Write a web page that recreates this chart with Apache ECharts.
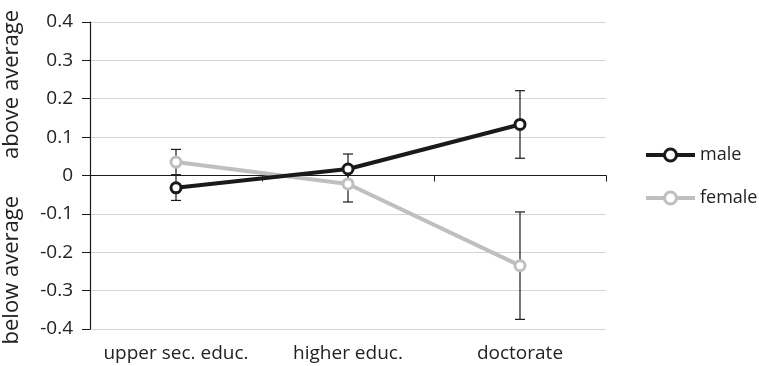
<!DOCTYPE html>
<html><head><meta charset="utf-8">
<script src="https://cdn.jsdelivr.net/npm/echarts@6/dist/echarts.min.js"></script>
<style>html,body{margin:0;padding:0;background:#fff}#c{width:759px;height:366px}</style>
</head><body><div id="c"></div>
<script>
var categories = ['upper sec. educ.', 'higher educ.', 'doctorate'];
var male = [-0.032, 0.017, 0.133];
var female = [0.035, -0.022, -0.235];
var maleErr = [0.033, 0.039, 0.088];
var femaleErr = [0.033, 0.047, 0.14];
var yTicks = [-0.4, -0.3, -0.2, -0.1, 0, 0.1, 0.2, 0.3, 0.4];

var FONT = 'Open Sans';
function errData(vals, errs) {
  return vals.map(function (v, i) { return [i, v - errs[i], v + errs[i]]; });
}
function errRender(params, api) {
  var x = api.value(0);
  var lo = api.coord([x, api.value(1)]);
  var hi = api.coord([x, api.value(2)]);
  var hw = 5;
  var st = { stroke: '#1a1a1a', lineWidth: 1.2 };
  return { type: 'group', children: [
    { type: 'line', shape: { x1: lo[0], y1: lo[1], x2: hi[0], y2: hi[1] }, style: st },
    { type: 'line', shape: { x1: lo[0] - hw, y1: lo[1], x2: lo[0] + hw, y2: lo[1] }, style: st },
    { type: 'line', shape: { x1: hi[0] - hw, y1: hi[1], x2: hi[0] + hw, y2: hi[1] }, style: st }
  ]};
}
var chart = echarts.init(document.getElementById('c'), null, { renderer: 'canvas' });
chart.setOption({
  animation: false,
  textStyle: { fontFamily: FONT },
  grid: { left: 90, right: 153, top: 22, bottom: 37 },
  legend: {
    orient: 'vertical', left: 644, top: 146, itemGap: 25, padding: 0,
    itemWidth: 49, itemHeight: 15,
    lineStyle: { width: 4 },
    itemStyle: { borderWidth: 3 },
    textStyle: { fontFamily: FONT, fontSize: 18, color: '#222' },
    data: ['male', 'female']
  },
  xAxis: [{
    type: 'category', data: categories, boundaryGap: true,
    axisLine: { onZero: true, lineStyle: { color: '#1a1a1a', width: 1.2 } },
    axisTick: { show: true, length: 6, inside: false, lineStyle: { color: '#1a1a1a' } },
    axisLabel: { show: false }
  }, {
    type: 'category', data: categories, position: 'bottom', boundaryGap: true,
    axisLine: { show: false, onZero: false }, axisTick: { show: false },
    axisLabel: { interval: 0, hideOverlap: false, margin: 15, fontFamily: FONT, fontSize: 19, color: '#222' }
  }],
  yAxis: {
    type: 'value', min: -0.4, max: 0.4, interval: 0.1,
    axisLine: { show: true, lineStyle: { color: '#1a1a1a', width: 1.2 } },
    axisTick: { show: true, length: 8, lineStyle: { color: '#1a1a1a' } },
    axisLabel: { margin: 17, fontFamily: FONT, fontSize: 19, color: '#222',
      formatter: function (v) { var r = Math.round(v * 10) / 10; return r === 0 ? '0' : r.toFixed(1); } },
    splitLine: { lineStyle: { color: '#d4d4d4', width: 1 } }
  },
  graphic: [
    { type: 'text', left: 1, top: 10, rotation: Math.PI / 2,
      style: { text: 'above average', fontFamily: FONT, fontSize: 22, fill: '#222' } },
    { type: 'text', left: 1, top: 196, rotation: Math.PI / 2,
      style: { text: 'below average', fontFamily: FONT, fontSize: 22, fill: '#222' } }
  ],
  series: [
    { type: 'custom', name: 'maleErr', renderItem: errRender, data: errData(male, maleErr), z: 1, silent: true },
    { type: 'custom', name: 'femaleErr', renderItem: errRender, data: errData(female, femaleErr), z: 1, silent: true },
    { type: 'line', name: 'female', data: female, z: 3,
      lineStyle: { color: '#bfbfbf', width: 4 },
      itemStyle: { color: '#fff', borderColor: '#bfbfbf', borderWidth: 3 },
      symbol: 'circle', symbolSize: 10, showSymbol: true },
    { type: 'line', name: 'male', data: male, z: 4,
      lineStyle: { color: '#1a1a1a', width: 4 },
      itemStyle: { color: '#fff', borderColor: '#1a1a1a', borderWidth: 3 },
      symbol: 'circle', symbolSize: 10, showSymbol: true }
  ]
});
</script></body></html>
